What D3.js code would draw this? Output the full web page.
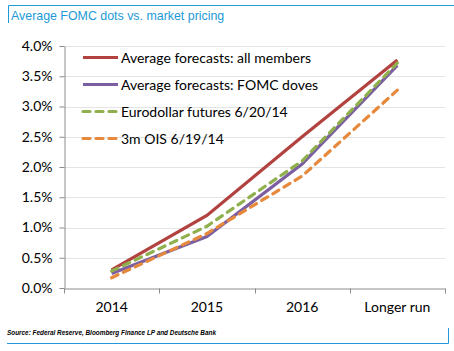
<!DOCTYPE html>
<html>
<head>
<meta charset="utf-8">
<script src="https://cdn.jsdelivr.net/npm/d3@7"></script>
<style>
  body { margin: 0; background: #fff; }
  svg { display: block; }
</style>
</head>
<body>
<div id="chart"></div>
<script>
// chart values
const categories = ['2014', '2015', '2016', 'Longer run'];
const allMembers = [0.30, 1.20, 2.50, 3.77];
const fomcDoves = [0.24, 0.85, 2.05, 3.68];
const eurodollar = [0.28, 1.02, 2.10, 3.72];
const ois3m = [0.17, 0.90, 1.85, 3.27];
const yTicks = [0, 0.5, 1.0, 1.5, 2.0, 2.5, 3.0, 3.5, 4.0];

const series = [
  { name: 'Average forecasts: all members', values: allMembers, color: '#b2423f', dash: null },
  { name: 'Average forecasts: FOMC doves', values: fomcDoves, color: '#7b5fa1', dash: null },
  { name: 'Eurodollar futures 6/20/14', values: eurodollar, color: '#8fb04c', dash: '7,6' },
  { name: '3m OIS 6/19/14', values: ois3m, color: '#e7893c', dash: '7,6' },
];

const size = { width: 454, height: 351 };
const margin = { left: 64, right: 9, top: 46, bottom: 63 };
const font = 'Lato, "Open Sans", sans-serif';

const svg = d3.select('#chart')
  .append('svg')
  .attr('width', size.width)
  .attr('height', size.height);

// title box
svg.append('path')
  .attr('d', 'M8.5,23 V5.5 H454')
  .attr('fill', 'none')
  .attr('stroke', '#1e9ad6')
  .attr('stroke-width', 1);

svg.append('text')
  .attr('x', 11)
  .attr('y', 20)
  .attr('fill', '#1e9ad6')
  .style('font-family', 'Arial, "Liberation Sans", sans-serif')
  .style('font-size', '12.4px')
  .text('Average FOMC dots vs. market pricing');

const x = d3.scaleBand()
  .domain(categories)
  .range([margin.left, size.width - margin.right]);

const y = d3.scaleLinear()
  .domain([0, 4])
  .range([size.height - margin.bottom, margin.top]);

// gridlines
svg.append('g')
  .selectAll('line')
  .data(yTicks.slice(1))
  .join('line')
  .attr('x1', margin.left)
  .attr('x2', size.width - margin.right)
  .attr('y1', (d) => Math.round(y(d)) + 0.5)
  .attr('y2', (d) => Math.round(y(d)) + 0.5)
  .attr('stroke', '#e4e4e4')
  .attr('stroke-width', 1);

// y axis
const yAxis = svg.append('g')
  .attr('transform', `translate(${margin.left + 0.5},0)`)
  .call(d3.axisLeft(y).tickValues(yTicks).tickSize(5).tickSizeOuter(0)
    .tickFormat((d) => `${d3.format('.1f')(d)}%`));
yAxis.select('.domain').attr('stroke', '#8c8c8c');
yAxis.selectAll('.tick line').attr('stroke', '#8c8c8c');
yAxis.selectAll('.tick text')
  .attr('x', -12)
  .attr('fill', '#000')
  .style('font-family', font)
  .style('font-size', '14px');

// x axis
const xAxis = svg.append('g')
  .attr('transform', `translate(0,${Math.round(y(0)) + 0.5})`)
  .call(d3.axisBottom(x).tickSize(0).tickPadding(14));
xAxis.select('.domain').attr('stroke', '#8c8c8c');
xAxis.selectAll('.tick text')
  .attr('fill', '#000')
  .style('font-family', font)
  .style('font-size', '14px');
// ticks between categories
const xEdges = categories.map((c) => x(c)).concat([x(categories[categories.length - 1]) + x.bandwidth()]);
xAxis.selectAll('.edge')
  .data(xEdges)
  .join('line')
  .attr('class', 'edge')
  .attr('x1', (d) => Math.round(d) + 0.5)
  .attr('x2', (d) => Math.round(d) + 0.5)
  .attr('y1', 0)
  .attr('y2', 5)
  .attr('stroke', '#8c8c8c');

// lines
const line = d3.line()
  .x((d, i) => x(categories[i]) + x.bandwidth() / 2)
  .y((d) => y(d));

svg.append('g')
  .selectAll('path')
  .data(series)
  .join('path')
  .attr('d', (d) => line(d.values))
  .attr('fill', 'none')
  .attr('stroke', (d) => d.color)
  .attr('stroke-width', 3.2)
  .attr('stroke-linecap', (d) => (d.dash ? 'round' : 'butt'))
  .attr('stroke-dasharray', (d) => d.dash);

// legend
const legend = svg.append('g')
  .selectAll('g')
  .data(series)
  .join('g')
  .attr('transform', (d, i) => `translate(83,${57.5 + i * 27})`);

legend.append('line')
  .attr('x1', 0)
  .attr('x2', 35)
  .attr('stroke', (d) => d.color)
  .attr('stroke-width', 3.2)
  .attr('stroke-linecap', (d) => (d.dash ? 'round' : 'butt'))
  .attr('stroke-dasharray', (d) => (d.dash ? '7,6' : null));

legend.append('text')
  .attr('x', 38)
  .attr('y', 5)
  .attr('fill', '#000')
  .style('font-family', font)
  .style('font-size', '14px')
  .text((d) => d.name);

// source + frame
svg.append('text')
  .attr('x', 7)
  .attr('y', 335)
  .attr('fill', '#000')
  .style('font-family', 'Arial, "Liberation Sans", sans-serif')
  .style('font-size', '6.4px')
  .style('font-style', 'italic')
  .style('font-weight', 'bold')
  .text('Source: Federal Reserve, Bloomberg Finance LP and Deutsche Bank');

svg.append('path')
  .attr('d', 'M7,343.5 H448.5 V328')
  .attr('fill', 'none')
  .attr('stroke', '#1e9ad6')
  .attr('stroke-width', 1);
</script>
</body>
</html>
